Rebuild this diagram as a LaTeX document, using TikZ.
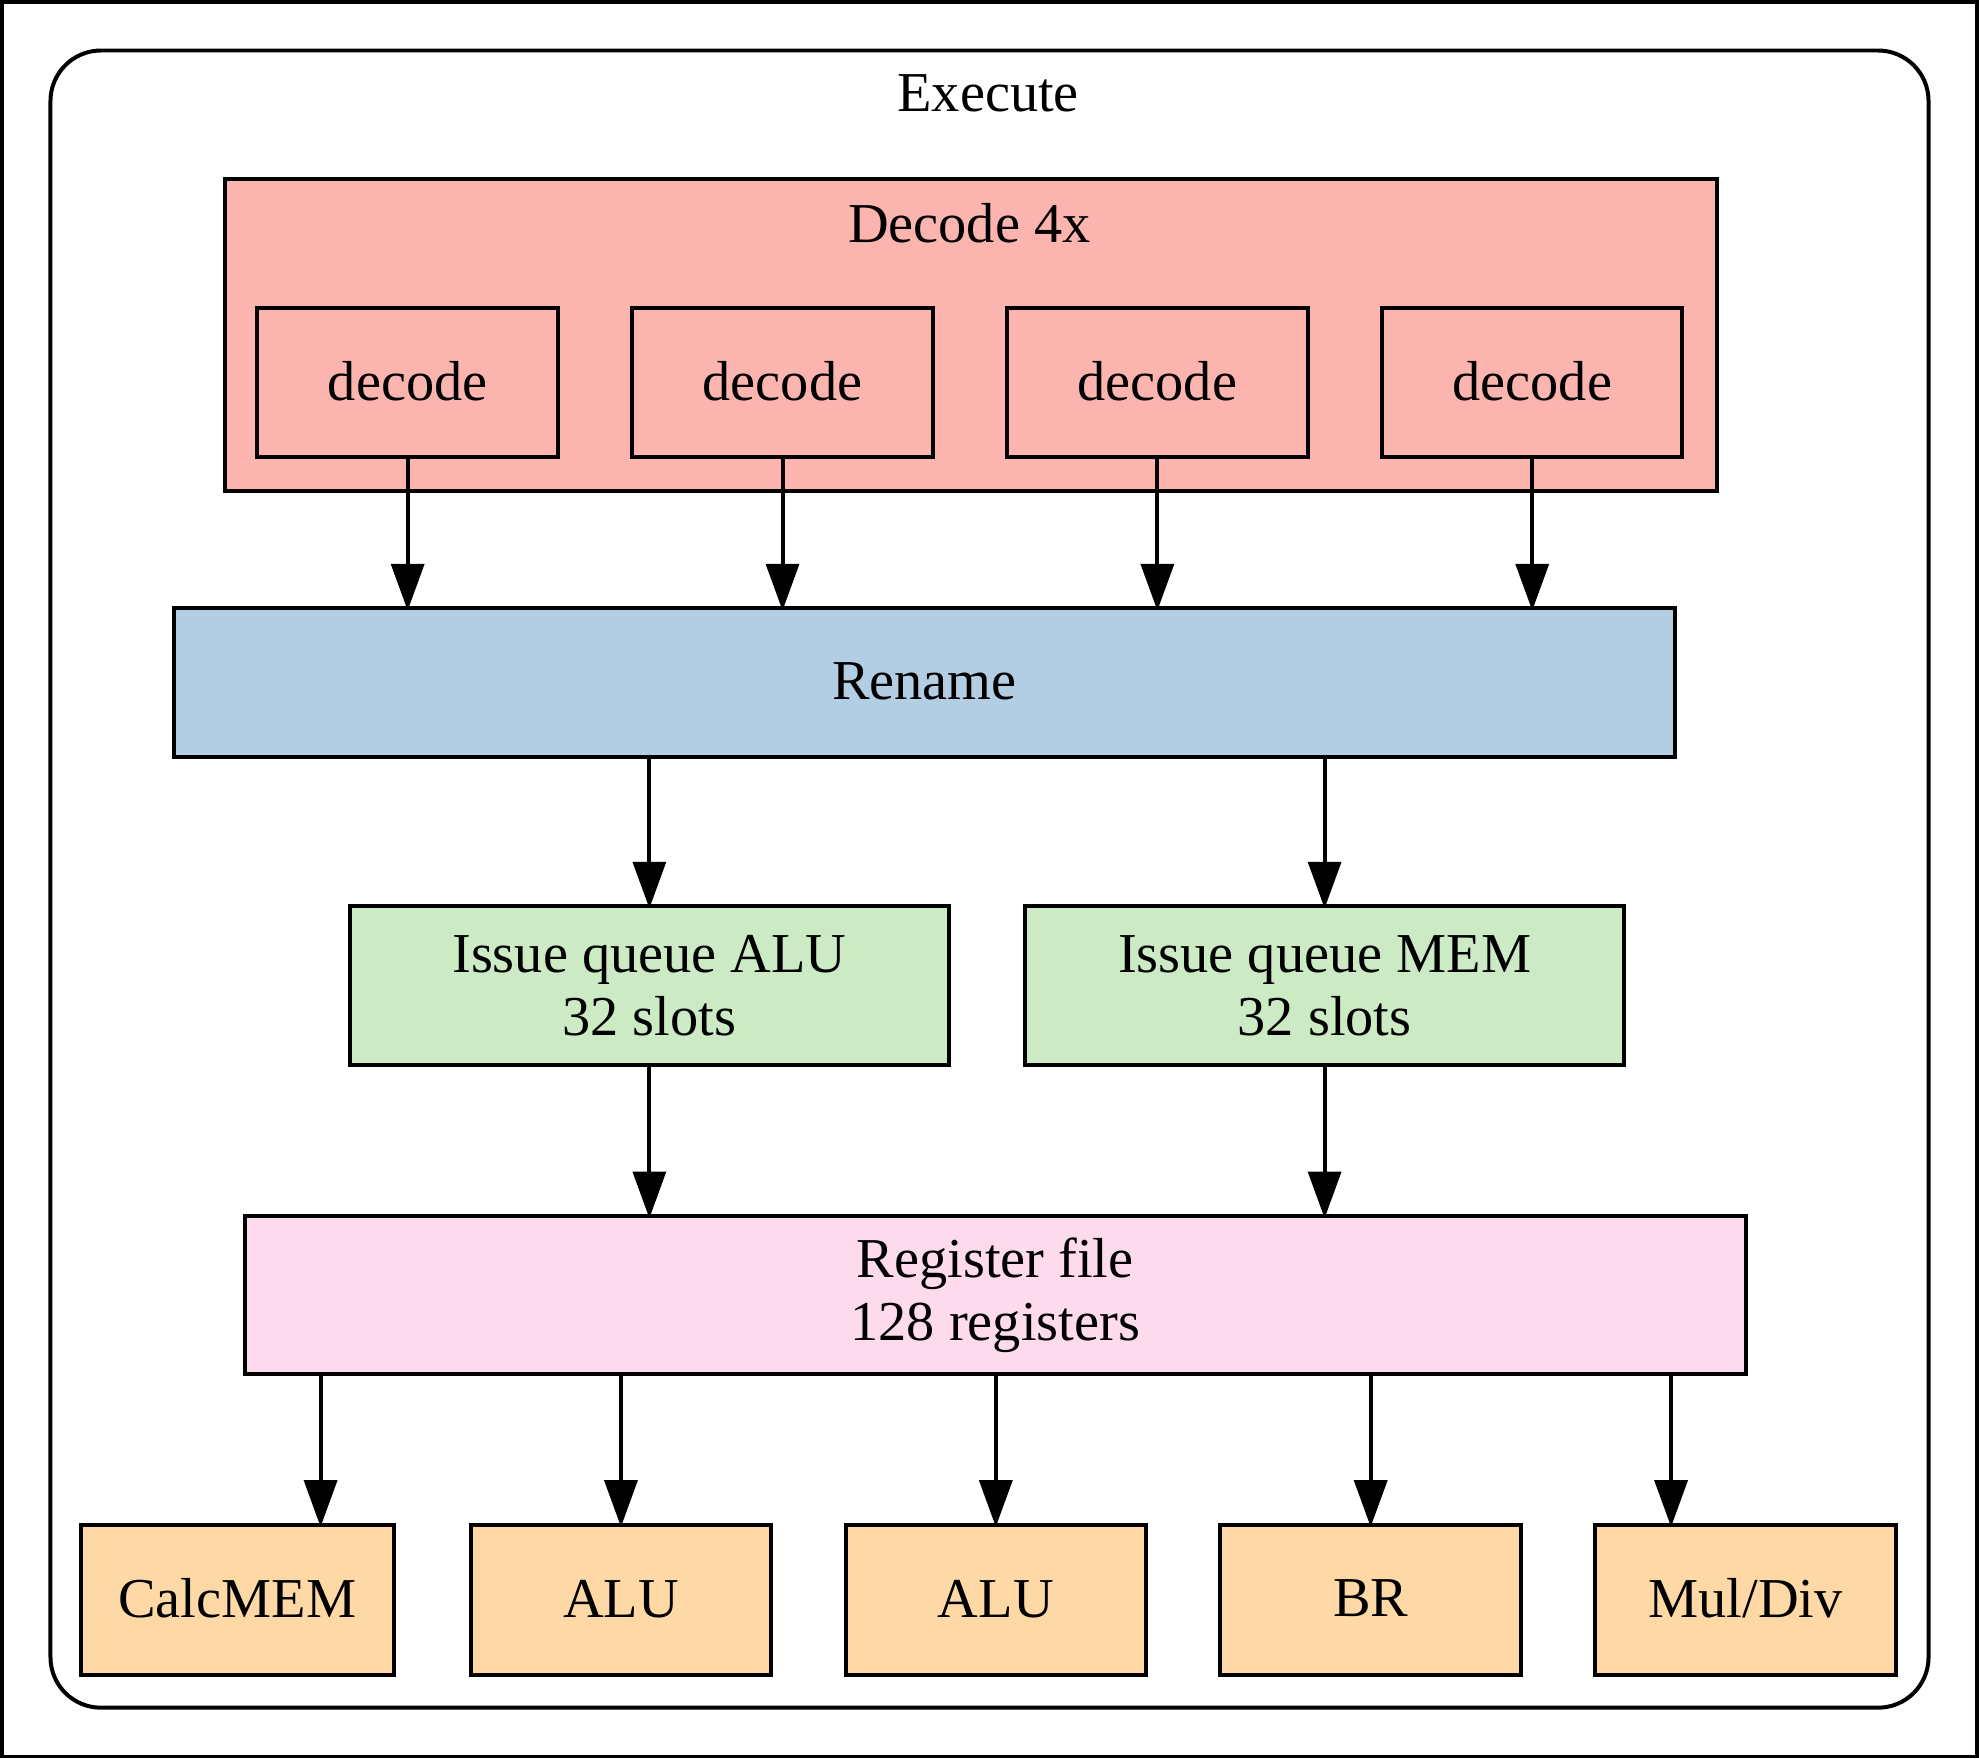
\documentclass[tikz,border=0pt]{standalone}
\usepackage{fontspec}
\setmainfont{Liberation Serif}
\usetikzlibrary{arrows.meta,calc}
\definecolor{cred}{HTML}{FBB4AE}
\definecolor{cblue}{HTML}{B3CDE3}
\definecolor{cgreen}{HTML}{CCEBC5}
\definecolor{cpink}{HTML}{FDDAEC}
\definecolor{corange}{HTML}{FED9A6}
\tikzset{
  box/.style={draw=black, line width=0.9pt, rectangle, inner sep=0pt, outer sep=0pt, align=center,
    font=\fontsize{12.7}{14.3}\selectfont},
  lbl/.style={inner sep=0pt, font=\fontsize{12.7}{14.3}\selectfont},
  arr/.style={line width=0.9pt, -{Triangle[length=3.7mm,width=2.6mm]}, shorten >=-0.5pt},
}
\begin{document}
\begin{tikzpicture}
\useasboundingbox (0,0) rectangle (15.68,-13.93);
\draw[line width=0.8pt] (0.014,-0.014) rectangle (15.666,-13.916);
% Execute cluster
\node[box, rounded corners=0.4cm, minimum width=14.88cm, minimum height=13.13cm] (exec) at (7.84,-6.965) {};
\node[lbl] (execl) at (7.83,-0.74) {Execute};
% Decode cluster
\node[box, fill=cred, minimum width=11.82cm, minimum height=2.47cm] (dec4) at (7.69,-2.655) {};
\node[lbl] (dec4l) at (7.68,-1.77) {Decode 4x};
\foreach \n/\x in {d1/3.23, d2/6.20, d3/9.17, d4/12.14}{
  \node[box, fill=cred, minimum width=2.38cm, minimum height=1.18cm] (\n) at (\x,-3.03) {\raisebox{0.6pt}{decode}};
}
\node[box, fill=cblue, minimum width=11.89cm, minimum height=1.18cm] (ren) at (7.325,-5.41) {\raisebox{0.6pt}{Rename}};
\node[box, fill=cgreen, minimum width=4.75cm, minimum height=1.26cm] (iqa) at (5.145,-7.81) {Issue queue ALU\\32 slots};
\node[box, fill=cgreen, minimum width=4.75cm, minimum height=1.26cm] (iqm) at (10.495,-7.81) {Issue queue MEM\\32 slots};
\node[box, fill=cpink, minimum width=11.89cm, minimum height=1.25cm] (reg) at (7.885,-10.26) {Register file\\128 registers};
\node[box, fill=corange, minimum width=2.48cm, minimum height=1.19cm] (cm) at (1.88,-12.675) {\raisebox{0.6pt}{CalcMEM}};
\node[box, fill=corange, minimum width=2.38cm, minimum height=1.19cm] (alu1) at (4.92,-12.675) {\raisebox{0.6pt}{ALU}};
\node[box, fill=corange, minimum width=2.38cm, minimum height=1.19cm] (alu2) at (7.89,-12.675) {\raisebox{0.6pt}{ALU}};
\node[box, fill=corange, minimum width=2.38cm, minimum height=1.19cm] (br) at (10.86,-12.675) {\raisebox{0.6pt}{BR}};
\node[box, fill=corange, minimum width=2.38cm, minimum height=1.19cm] (md) at (13.83,-12.675) {\raisebox{0.6pt}{Mul/Div}};
% connectors
\foreach \n in {d1,d2,d3,d4}{
  \draw[arr] (\n.south) -- (\n.south |- ren.north);
}
\draw[arr] (ren.south -| iqa.north) -- (iqa.north);
\draw[arr] (ren.south -| iqm.north) -- (iqm.north);
\draw[arr] (iqa.south) -- (iqa.south |- reg.north);
\draw[arr] (iqm.south) -- (iqm.south |- reg.north);
\coordinate (cmtop) at ([xshift=0.66cm]cm.north);
\coordinate (mdtop) at ([xshift=-0.59cm]md.north);
\draw[arr] (reg.south -| cmtop) -- (cmtop);
\draw[arr] (reg.south -| alu1.north) -- (alu1.north);
\draw[arr] (reg.south -| alu2.north) -- (alu2.north);
\draw[arr] (reg.south -| br.north) -- (br.north);
\draw[arr] (reg.south -| mdtop) -- (mdtop);
\end{tikzpicture}
\end{document}
